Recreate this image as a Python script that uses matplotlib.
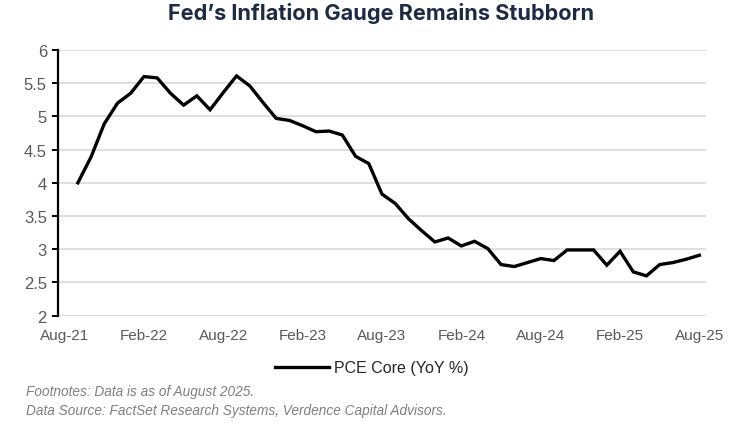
import matplotlib.pyplot as plt

months = ["Aug-21", "Sep-21", "Oct-21", "Nov-21", "Dec-21", "Jan-22", "Feb-22", "Mar-22",
          "Apr-22", "May-22", "Jun-22", "Jul-22", "Aug-22", "Sep-22", "Oct-22", "Nov-22",
          "Dec-22", "Jan-23", "Feb-23", "Mar-23", "Apr-23", "May-23", "Jun-23", "Jul-23",
          "Aug-23", "Sep-23", "Oct-23", "Nov-23", "Dec-23", "Jan-24", "Feb-24", "Mar-24",
          "Apr-24", "May-24", "Jun-24", "Jul-24", "Aug-24", "Sep-24", "Oct-24", "Nov-24",
          "Dec-24", "Jan-25", "Feb-25", "Mar-25", "Apr-25", "May-25", "Jun-25", "Jul-25",
          "Aug-25"]

# first category (Aug-21) has no value in the source chart
pce_core = [None, 4.00, 4.39, 4.89, 5.20, 5.35, 5.60, 5.58,
            5.35, 5.17, 5.31, 5.10, 5.36, 5.61, 5.46, 5.21,
            4.97, 4.94, 4.86, 4.77, 4.78, 4.72, 4.40, 4.29,
            3.83, 3.69, 3.46, 3.28, 3.11, 3.17, 3.05, 3.12,
            3.01, 2.77, 2.74, 2.80, 2.86, 2.83, 2.99, 2.99,
            2.99, 2.76, 2.97, 2.66, 2.60, 2.77, 2.80, 2.85,
            2.91]

yticks = [2, 2.5, 3, 3.5, 4, 4.5, 5, 5.5, 6]
ytick_labels = ["2", "2.5", "3", "3.5", "4", "4.5", "5", "5.5", "6"]

xs = [i for i, v in enumerate(pce_core) if v is not None]
ys = [v for v in pce_core if v is not None]

gray = "#595959"

fig = plt.figure(figsize=(7.39, 4.39), dpi=100)
ax = fig.add_axes([58 / 739, 1 - 316.7 / 439, 648 / 739, 265.7 / 439])

ax.plot(xs, ys, color="black", lw=2.4, solid_joinstyle="miter", label="PCE Core (YoY %)")

ax.set_xlim(-0.5, len(months) - 0.5)
ax.set_ylim(2, 6)
ax.set_yticks(yticks)
ax.set_yticklabels(ytick_labels, family="Liberation Sans", fontsize=12, color=gray)
ax.set_xticks(range(0, len(months), 6))
ax.set_xticklabels(months[::6], family="Liberation Sans", fontsize=11, color=gray)

ax.grid(axis="y", color="#d9d9d9", lw=1.2)
ax.set_axisbelow(True)
for side in ["top", "right", "bottom"]:
    ax.spines[side].set_visible(False)
ax.spines["left"].set_color("black")
ax.spines["left"].set_linewidth(1.6)
ax.tick_params(axis="y", length=4, width=1.4, color="black", pad=4)
ax.tick_params(axis="x", length=0, pad=9)

fig.text(381 / 739, 1 - 14 / 439, "Fed\u2019s Inflation Gauge Remains Stubborn",
         ha="center", va="center", fontsize=15.6, fontweight="bold",
         family=["Inter", "DejaVu Sans"], color="#1d2a46")

leg = fig.legend(loc="center", bbox_to_anchor=(372 / 739, 1 - 369 / 439), frameon=False,
                 handlelength=3.4, handletextpad=0.3,
                 prop={"family": "Liberation Sans", "size": 11.5})
for t in leg.get_texts():
    t.set_color("#262626")

fig.text(26 / 739, 1 - 392 / 439, "Footnotes: Data is as of August 2025.",
         ha="left", va="center", fontsize=9.8, style="italic", family="Liberation Sans",
         color="#7f7f7f")
fig.text(26 / 739, 1 - 411 / 439,
         "Data Source: FactSet Research Systems, Verdence Capital Advisors.",
         ha="left", va="center", fontsize=9.8, style="italic", family="Liberation Sans",
         color="#7f7f7f")

fig.savefig("out.png", dpi=100)
